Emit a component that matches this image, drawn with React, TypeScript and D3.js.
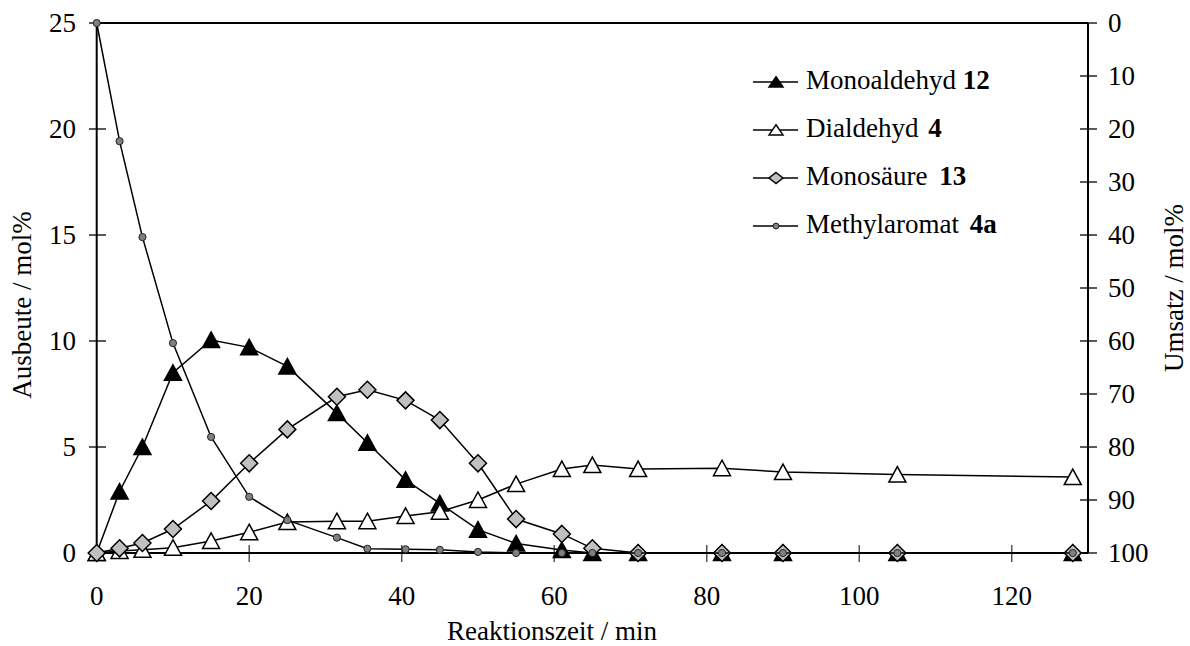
import React from "react";
import * as d3 from "d3";

const times = [0, 3, 6, 10, 15, 20, 25, 31.5, 35.5, 40.5, 45, 50, 55, 61, 65, 71, 82, 90, 105, 128];
const monoaldehyd = [0, 2.9, 5.0, 8.5, 10.05, 9.7, 8.8, 6.6, 5.2, 3.45, 2.34, 1.1, 0.45, 0.14, 0, 0, 0, 0, 0, 0];
const dialdehyd = [0, 0.1, 0.15, 0.25, 0.57, 0.98, 1.46, 1.5, 1.5, 1.75, 1.95, 2.5, 3.25, 3.96, 4.15, 3.96, 4.0, 3.82, 3.7, 3.58];
const monosaeure = [0, 0.22, 0.47, 1.13, 2.45, 4.23, 5.83, 7.37, 7.7, 7.2, 6.27, 4.23, 1.6, 0.9, 0.22, 0, 0, 0, 0, 0];
// Methylaromat 4a, plotted as Umsatz on the reversed right axis
const umsatz = [0, 22.3, 40.4, 60.4, 78.1, 89.4, 93.8, 97.1, 99.2, 99.3, 99.4, 99.8, 100, 100, 100, 100, 100, 100, 100, 100];

const xTicks = [0, 20, 40, 60, 80, 100, 120];
const yLeftTicks = [0, 5, 10, 15, 20, 25];
const yRightTicks = [0, 10, 20, 30, 40, 50, 60, 70, 80, 90, 100];

const legendNames = ["Monoaldehyd", "Dialdehyd", "Monosäure", "Methylaromat"];
const legendNums = ["12", "4", "13", "4a"];

const FONT = "Liberation Serif, Times New Roman, Times, DejaVu Serif, serif";

type MarkerKind = "triFilled" | "triOpen" | "diamond" | "circle";

function Marker({ kind, x, y, sx = 1, sy = 1 }: { kind: MarkerKind; x: number; y: number; sx?: number; sy?: number }) {
  if (kind === "triFilled" || kind === "triOpen") {
    const p = `M${x},${y - 8 * sy} L${x + 8.5 * sx},${y + 7.5 * sy} L${x - 8.5 * sx},${y + 7.5 * sy} Z`;
    return <path d={p} fill={kind === "triFilled" ? "#000" : "#fff"} stroke="#000" strokeWidth={1.5} strokeLinejoin="miter" />;
  }
  if (kind === "diamond") {
    const p = `M${x},${y - 8.5 * sy} L${x + 8.5 * sx},${y} L${x},${y + 8.5 * sy} L${x - 8.5 * sx},${y} Z`;
    return <path d={p} fill="#c0c0c0" stroke="#000" strokeWidth={1.5} />;
  }
  return <circle cx={x} cy={y} r={3.6 * sx} fill="#808080" stroke="#222" strokeWidth={1} />;
}

export default function App() {
  const x = d3.scaleLinear().domain([0, 130]).range([96.7, 1088]);
  const yL = d3.scaleLinear().domain([0, 25]).range([553, 23]);
  const yR = d3.scaleLinear().domain([0, 100]).range([23, 553]);

  const series: { vals: number[]; kind: MarkerKind; scale: d3.ScaleLinear<number, number> }[] = [
    { vals: monoaldehyd, kind: "triFilled", scale: yL },
    { vals: dialdehyd, kind: "triOpen", scale: yL },
    { vals: monosaeure, kind: "diamond", scale: yL },
    { vals: umsatz, kind: "circle", scale: yR },
  ];

  const legendExtraGap = [0, 3, 5, 4];

  return (
    <svg width={1190} height={646} style={{ position: "absolute", left: 0, top: 0, background: "#fff", fontFamily: FONT }}>
      <rect x={0} y={0} width={1190} height={646} fill="#fff" />
      {/* frame */}
      <line x1={x(0)} x2={x(130)} y1={yL(25)} y2={yL(25)} stroke="#000" strokeWidth={1.8} />
      {/* x ticks */}
      {xTicks.filter((t) => t > 0).map((t) => (
        <line key={"xt" + t} x1={x(t)} x2={x(t)} y1={545} y2={562} stroke="#555" strokeWidth={1.5} />
      ))}
      {/* left ticks */}
      {yLeftTicks.map((t) => (
        <line key={"yl" + t} x1={89} x2={106} y1={yL(t)} y2={yL(t)} stroke="#000" strokeWidth={1.3} />
      ))}
      {/* right ticks */}
      {yRightTicks.map((t) => (
        <line key={"yr" + t} x1={1080} x2={1097} y1={yR(t)} y2={yR(t)} stroke="#000" strokeWidth={1.3} />
      ))}
      {/* axes */}
      <line x1={x(0)} x2={x(130)} y1={yL(0)} y2={yL(0)} stroke="#000" strokeWidth={2} />
      <line x1={x(0)} x2={x(0)} y1={yL(0)} y2={yL(25)} stroke="#000" strokeWidth={2} />
      <line x1={x(130)} x2={x(130)} y1={yL(0)} y2={yL(25)} stroke="#000" strokeWidth={2} />

      {/* tick labels */}
      {xTicks.map((t) => (
        <text key={"xl" + t} x={x(t)} y={605} textAnchor="middle" fontSize={27}>{t}</text>
      ))}
      {yLeftTicks.map((t) => (
        <text key={"yll" + t} x={76} y={yL(t)} dy="0.34em" textAnchor="end" fontSize={27}>{t}</text>
      ))}
      {yRightTicks.map((t) => (
        <text key={"yrl" + t} x={1108} y={yR(t)} dy="0.34em" textAnchor="start" fontSize={27}>{t}</text>
      ))}

      {/* axis titles */}
      <text x={552} y={640} textAnchor="middle" fontSize={27}>Reaktionszeit / min</text>
      <text transform="translate(31,305) rotate(-90)" textAnchor="middle" fontSize={27}>Ausbeute / mol%</text>
      <text transform="translate(1183,288) rotate(-90)" textAnchor="middle" fontSize={27}>Umsatz / mol%</text>

      {/* series */}
      {series.map((s, i) => {
        const line = d3.line<number>().x((_, j) => x(times[j])).y((v) => s.scale(v));
        return (
          <g key={"s" + i}>
            <path d={line(s.vals) || ""} fill="none" stroke="#000" strokeWidth={1.5} />
            {s.vals.map((v, j) => (
              <Marker key={j} kind={s.kind} x={x(times[j])} y={s.scale(v)} />
            ))}
          </g>
        );
      })}

      {/* legend */}
      {series.map((s, i) => {
        const ly = 82 + i * 48;
        return (
          <g key={"lg" + i}>
            <line x1={753} x2={798} y1={ly} y2={ly} stroke="#000" strokeWidth={1.5} />
            <Marker kind={s.kind} x={776} y={ly} sx={0.82} sy={0.65} />
            <text x={806} y={ly + 7} fontSize={27}>
              {legendNames[i]}
              <tspan dx={legendExtraGap[i]} fontWeight="bold"> {legendNums[i]}</tspan>
            </text>
          </g>
        );
      })}
    </svg>
  );
}
